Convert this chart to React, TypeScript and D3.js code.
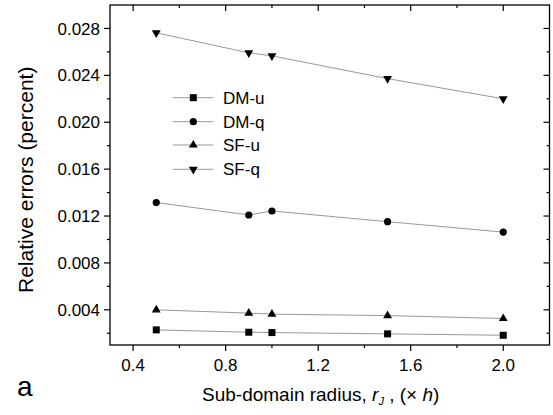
import React from "react";
import * as d3 from "d3";

// sub-domain radius values (x h)
const radii = [0.5, 0.9, 1.0, 1.5, 2.0];

// relative errors (percent)
const dmU = [0.00229, 0.00209, 0.00206, 0.00195, 0.00183];
const dmQ = [0.01315, 0.01209, 0.01243, 0.01152, 0.01063];
const sfU = [0.004, 0.00372, 0.00363, 0.00351, 0.00326];
const sfQ = [0.02763, 0.02592, 0.02566, 0.02372, 0.022];

const seriesNames = ["DM-u", "DM-q", "SF-u", "SF-q"];
const seriesValues = [dmU, dmQ, sfU, sfQ];

const xMajor = [0.4, 0.8, 1.2, 1.6, 2.0];
const xMinor = [0.6, 1.0, 1.4, 1.8];
const yMajor = [0.004, 0.008, 0.012, 0.016, 0.02, 0.024, 0.028];
const yMinor = [0.002, 0.006, 0.01, 0.014, 0.018, 0.022, 0.026];

const FONT = "'Liberation Sans', Arial, sans-serif";

const margin = { left: 110, top: 5, right: 549.5, bottom: 345 };

function marker(kind: number, x: number, y: number, key?: string) {
  if (kind === 0) {
    const p = d3.symbol().type(d3.symbolSquare).size(49)();
    return <path key={key} d={p || ""} transform={`translate(${x},${y})`} fill="#000" />;
  }
  if (kind === 1) {
    return <circle key={key} cx={x} cy={y} r={3.6} fill="#000" />;
  }
  const p = d3.symbol().type(d3.symbolTriangle).size(34)();
  const rot = kind === 3 ? " rotate(180)" : "";
  return <path key={key} d={p || ""} transform={`translate(${x},${y})${rot}`} fill="#000" />;
}

export default function App() {
  const x = d3.scaleLinear().domain([0.3, 2.2]).range([margin.left, margin.right]);
  const y = d3.scaleLinear().domain([0.001, 0.03]).range([margin.bottom, margin.top]);

  const line = d3
    .line<number>()
    .x((_, i) => x(radii[i]))
    .y((d) => y(d));

  // legend rows
  const legendY = [97.7, 121.7, 145, 169.3];

  return (
    <svg
      width={553}
      height={415}
      style={{ position: "absolute", left: 0, top: 0, background: "#fff" }}
      fontFamily={FONT}
    >
      {/* series lines */}
      {seriesValues.map((vals, si) => (
        <path key={"l" + si} d={line(vals) || ""} fill="none" stroke="#999" strokeWidth={1} />
      ))}
      {/* markers */}
      {seriesValues.map((vals, si) =>
        vals.map((v, i) => marker(si, x(radii[i]), y(v), `m${si}-${i}`))
      )}

      {/* frame */}
      <rect
        x={margin.left}
        y={margin.top}
        width={margin.right - margin.left}
        height={margin.bottom - margin.top}
        fill="none"
        stroke="#000"
        strokeWidth={1.3}
      />

      {/* x ticks: bottom outward, top inward */}
      {xMajor.map((t) => (
        <g key={"xm" + t}>
          <line x1={x(t)} x2={x(t)} y1={margin.bottom} y2={margin.bottom + 6} stroke="#000" strokeWidth={1.2} />
          <line x1={x(t)} x2={x(t)} y1={margin.top} y2={margin.top + 6} stroke="#000" strokeWidth={1.2} />
          <text x={x(t)} y={371} textAnchor="middle" fontSize={17}>
            {t.toFixed(1)}
          </text>
        </g>
      ))}
      {xMinor.map((t) => (
        <g key={"xn" + t}>
          <line x1={x(t)} x2={x(t)} y1={margin.bottom} y2={margin.bottom + 3} stroke="#000" strokeWidth={1.2} />
          <line x1={x(t)} x2={x(t)} y1={margin.top} y2={margin.top + 3} stroke="#000" strokeWidth={1.2} />
        </g>
      ))}

      {/* y ticks: left outward, right inward */}
      {yMajor.map((t) => (
        <g key={"ym" + t}>
          <line x1={margin.left - 6} x2={margin.left} y1={y(t)} y2={y(t)} stroke="#000" strokeWidth={1.2} />
          <line x1={margin.right - 6} x2={margin.right} y1={y(t)} y2={y(t)} stroke="#000" strokeWidth={1.2} />
          <text x={100} y={y(t)} dy="0.36em" textAnchor="end" fontSize={17}>
            {t.toFixed(3)}
          </text>
        </g>
      ))}
      {yMinor.map((t) => (
        <g key={"yn" + t}>
          <line x1={margin.left - 3} x2={margin.left} y1={y(t)} y2={y(t)} stroke="#000" strokeWidth={1.2} />
          <line x1={margin.right - 3} x2={margin.right} y1={y(t)} y2={y(t)} stroke="#000" strokeWidth={1.2} />
        </g>
      ))}

      {/* legend */}
      {seriesNames.map((name, i) => (
        <g key={"lg" + name}>
          <line x1={172.7} x2={213.3} y1={legendY[i]} y2={legendY[i]} stroke="#999" strokeWidth={1} />
          {marker(i, 193.3, legendY[i])}
          <text x={223} y={legendY[i]} dy="0.36em" fontSize={17}>
            {name}
          </text>
        </g>
      ))}

      {/* axis titles */}
      <text transform="translate(33,293) rotate(-90)" fontSize={21}>
        Relative errors (percent)
      </text>
      <text x={202} y={401} fontSize={19}>
        Sub-domain radius,{" "}
        <tspan fontStyle="italic">r</tspan>
        <tspan fontStyle="italic" fontSize={11} dy={4}>
          J
        </tspan>
        <tspan dy={-4}> , (× </tspan>
        <tspan fontStyle="italic">h</tspan>)
      </text>

      {/* panel label */}
      <text x={17} y={396} fontSize={28}>
        a
      </text>
    </svg>
  );
}
